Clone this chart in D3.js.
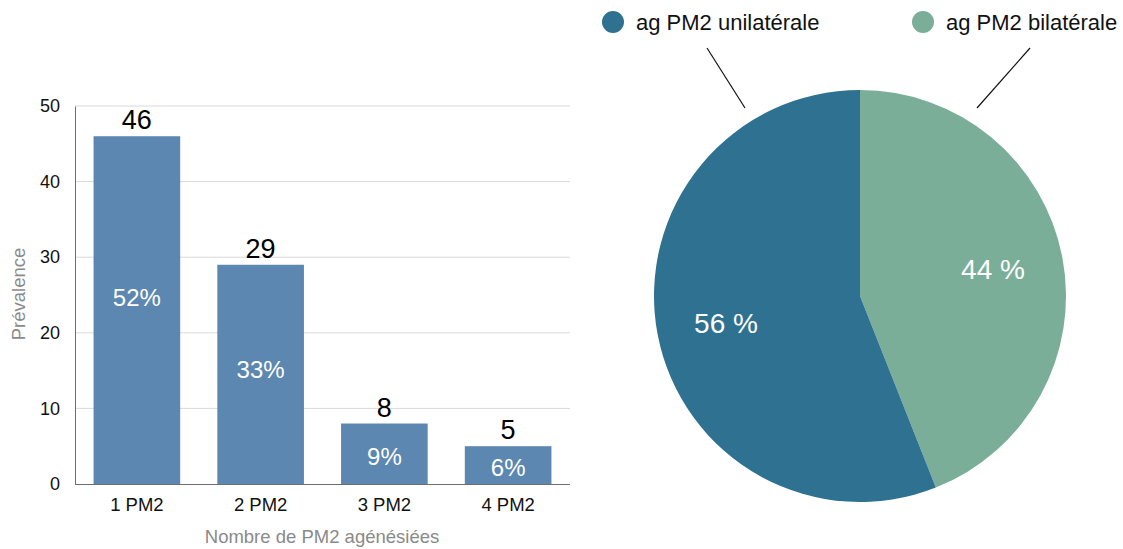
<!DOCTYPE html>
<html><head><meta charset="utf-8">
<script src="https://cdn.jsdelivr.net/npm/d3@7"></script>
<style>body{margin:0;background:#fff;font-family:"Liberation Sans",Arial,Helvetica,sans-serif}</style>
</head><body><svg id="c" width="1123" height="549"></svg>
<script>
const categories = ["1 PM2","2 PM2","3 PM2","4 PM2"];
const values = [46, 29, 8, 5];
const percents = ["52%","33%","9%","6%"];
const yTicks = [0,10,20,30,40,50];
const pieLabels = ["ag PM2 bilatérale","ag PM2 unilatérale"];
const pieValues = [44, 56];
const pieText = ["44 %","56 %"];

const svg = d3.select("#c");
const font = '"Liberation Sans",Arial,Helvetica,sans-serif';

// Bar chart
const x = d3.scaleBand().domain(categories).range([75,570]).paddingInner(0.3).paddingOuter(0.15);
const y = d3.scaleLinear().domain([0,50]).range([484,106]);

const g = svg.append("g");
g.selectAll("line.grid").data(yTicks.filter(d=>d>0)).join("line")
  .attr("x1",75).attr("x2",570).attr("y1",d=>y(d)).attr("y2",d=>y(d))
  .attr("stroke","#d9d9d9").attr("stroke-width",1);

const yAxis = g.append("g").attr("transform","translate(75,0)")
  .call(d3.axisLeft(y).tickValues(yTicks).tickSize(0).tickPadding(15));
yAxis.select(".domain").attr("stroke","#6e6e6e");
yAxis.selectAll("text").attr("font-size",18).attr("font-family",font).attr("fill","#111");

g.selectAll("rect.bar").data(values).join("rect")
  .attr("x",(d,i)=>x(categories[i])).attr("width",x.bandwidth())
  .attr("y",d=>y(d)).attr("height",d=>y(0)-y(d))
  .attr("fill","#5b87b1");

const xAxis = g.append("g").attr("transform","translate(0,484)")
  .call(d3.axisBottom(x).tickSize(0).tickPadding(14));
xAxis.select(".domain").attr("stroke","#6e6e6e").attr("d","M75,0.5H570");
xAxis.selectAll("text").attr("font-size",18.5).attr("font-family",font).attr("fill","#111");

g.selectAll("text.val").data(values).join("text")
  .attr("x",(d,i)=>x(categories[i])+x.bandwidth()/2).attr("y",d=>y(d)-7)
  .attr("text-anchor","middle").attr("font-size",27).attr("font-family",font).attr("fill","#000")
  .text(d=>d);

const pctOff = [13, 5, -3, -2];
g.selectAll("text.pct").data(values).join("text")
  .attr("x",(d,i)=>x(categories[i])+x.bandwidth()/2)
  .attr("y",(d,i)=>(y(d)+y(0))/2 + 8.5 - pctOff[i])
  .attr("text-anchor","middle").attr("font-size",24).attr("font-family",font).attr("fill","#fff")
  .text((d,i)=>percents[i]);

g.append("text").attr("transform","translate(25,294) rotate(-90)")
  .attr("text-anchor","middle").attr("font-size",18.5).attr("font-family",font).attr("fill","#8a8a8a")
  .text("Prévalence");
g.append("text").attr("x",322).attr("y",543)
  .attr("text-anchor","middle").attr("font-size",18.5).attr("font-family",font).attr("fill","#8a8a8a")
  .text("Nombre de PM2 agénésiées");

// Pie
const colors = ["#7aae98","#2f7190"];
const cx = 860, cy = 296, r = 206;
const pie = d3.pie().sort(null)(pieValues);
const arc = d3.arc().innerRadius(0).outerRadius(r);
const pg = svg.append("g").attr("transform",`translate(${cx},${cy})`);
pg.selectAll("path").data(pie).join("path").attr("d",arc).attr("fill",(d,i)=>colors[i]);
const lblPos = [[133,-17],[-134,37]];
pg.selectAll("text").data(pie).join("text")
  .attr("x",(d,i)=>lblPos[i][0]).attr("y",(d,i)=>lblPos[i][1])
  .attr("text-anchor","middle").attr("font-size",28).attr("font-family",font).attr("fill","#fff")
  .text((d,i)=>pieText[i]);

// leader lines
svg.append("line").attr("x1",707).attr("y1",48).attr("x2",745).attr("y2",108).attr("stroke","#111").attr("stroke-width",1.2);
svg.append("line").attr("x1",1030).attr("y1",48).attr("x2",977).attr("y2",108).attr("stroke","#111").attr("stroke-width",1.2);

// legend
const legX = [923, 613];
const lg = svg.append("g");
pieLabels.forEach((lab,i)=>{
  lg.append("circle").attr("cx",legX[i]).attr("cy",22).attr("r",11).attr("fill",colors[i]);
  lg.append("text").attr("x",legX[i]+23).attr("y",30).attr("font-size",22).attr("font-family",font).attr("fill","#111").text(lab);
});
</script></body></html>
